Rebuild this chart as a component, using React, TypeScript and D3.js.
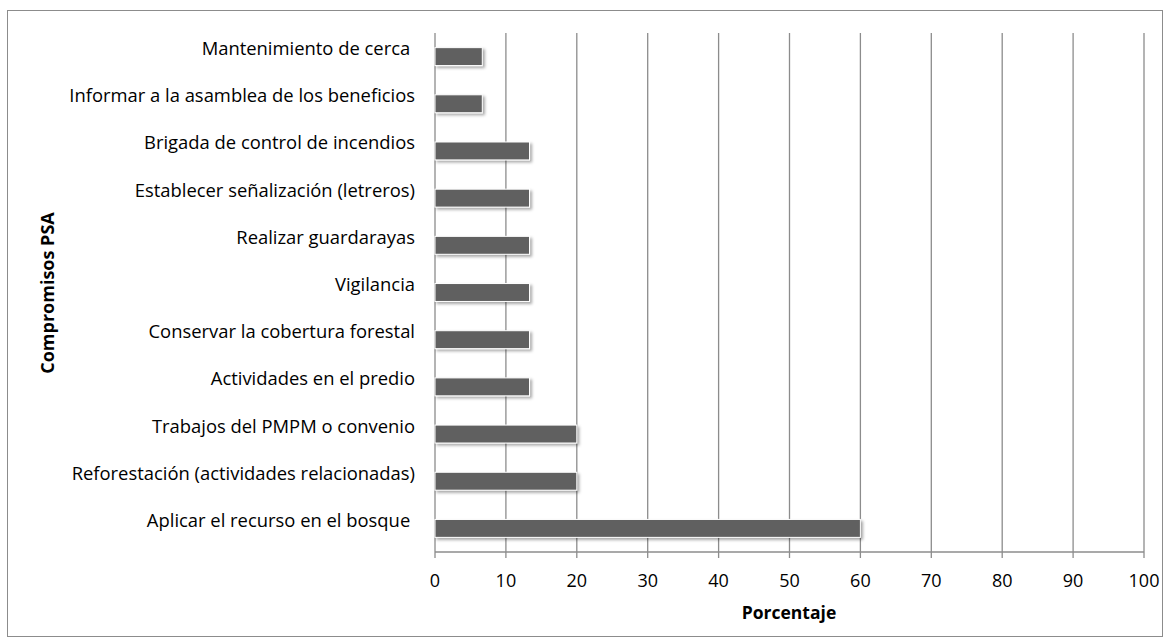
import React from "react";
import * as d3 from "d3";

const categories = [
  "Mantenimiento de cerca ",
  "Informar a la asamblea de los beneficios",
  "Brigada de control de incendios",
  "Establecer señalización (letreros)",
  "Realizar guardarayas",
  "Vigilancia",
  "Conservar la cobertura forestal",
  "Actividades en el predio",
  "Trabajos del PMPM o convenio",
  "Reforestación (actividades relacionadas)",
  "Aplicar el recurso en el bosque ",
];
const values = [6.67, 6.67, 13.33, 13.33, 13.33, 13.33, 13.33, 13.33, 20, 20, 60];
const xTicks = [0, 10, 20, 30, 40, 50, 60, 70, 80, 90, 100];
const xTitle = "Porcentaje";
const yTitle = "Compromisos PSA";

const W = 1170;
const H = 643;
const left = 435;
const right = 1144;
const top = 33;
const bottom = 552;
const FONT = "'Open Sans', sans-serif";

export default function App() {
  const x = d3.scaleLinear().domain([0, 100]).range([left, right]);
  const y = d3.scaleBand().domain(categories).range([top, bottom]).paddingInner(0.62).paddingOuter(0.31);
  const bw = y.bandwidth();
  return (
    <svg width={W} height={H} style={{ position: "absolute", left: 0, top: 0 }} fontFamily={FONT}>
      <defs>
        <filter id="sh" x="-10%" y="-50%" width="130%" height="250%">
          <feDropShadow dx="2" dy="2" stdDeviation="1.6" floodColor="#000" floodOpacity="0.35" />
        </filter>
      </defs>
      <rect x={0} y={0} width={W} height={H} fill="#fff" />
      <rect x={7.5} y={10.5} width={1155} height={626} fill="#fff" stroke="#8c8c8c" strokeWidth={1} />
      {xTicks.map((t) => (
        <line key={"g" + t} x1={x(t)} x2={x(t)} y1={top} y2={bottom + 6} stroke="#8c8c8c" strokeWidth={1.3} />
      ))}
      <line x1={left} x2={right} y1={bottom} y2={bottom} stroke="#8c8c8c" strokeWidth={1.3} />
      {categories.map((c, i) => (
        <rect
          key={c}
          x={x(0)}
          y={y(c)!}
          width={x(values[i]) - x(0)}
          height={bw}
          fill="#606060"
          stroke="#fff"
          strokeWidth={1}
          filter="url(#sh)"
        />
      ))}
      {categories.map((c) => (
        <text key={"l" + c} x={415} y={y(c)! + bw / 2 - 9} textAnchor="end" dominantBaseline="central" fontSize={18.4} fill="#000" style={{ whiteSpace: "pre" }}>
          {c}
        </text>
      ))}
      {xTicks.map((t) => (
        <text key={"t" + t} x={x(t)} y={580} textAnchor="middle" dominantBaseline="central" fontSize={18} fill="#000">
          {t}
        </text>
      ))}
      <text x={789} y={612} textAnchor="middle" dominantBaseline="central" fontSize={17.5} fontWeight="bold" fill="#000">
        {xTitle}
      </text>
      <text transform={`translate(47,293) rotate(-90)`} textAnchor="middle" dominantBaseline="central" fontSize={18} fontWeight="bold" fill="#000">
        {yTitle}
      </text>
    </svg>
  );
}
